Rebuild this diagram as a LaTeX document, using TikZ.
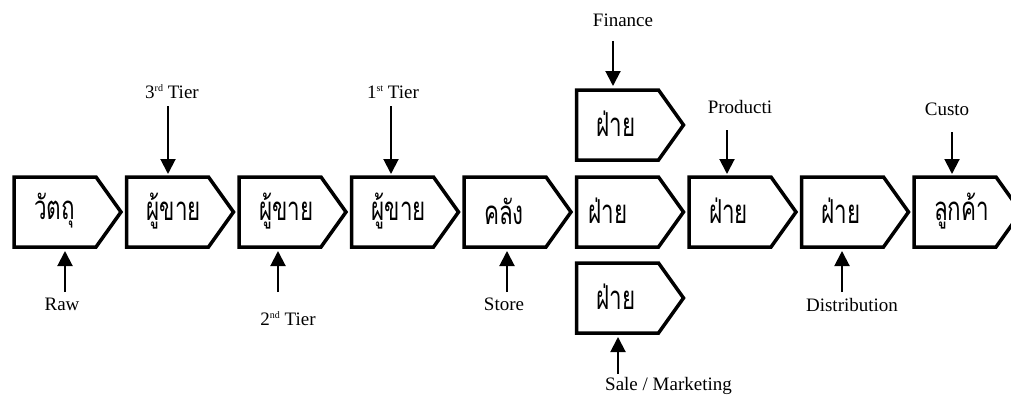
\documentclass[tikz,border=0pt]{standalone}
\usepackage{fontspec}
\setmainfont{Liberation Serif}
\newfontfamily\thaifont[Script=Thai,FakeStretch=0.68]{Loma}
\usetikzlibrary{arrows.meta}

\tikzset{
  core/.style={minimum width=82pt, minimum height=70pt, inner sep=0pt, outer sep=0pt},
  outline/.style={line width=3.5pt, line join=miter},
  thai/.style={font=\thaifont\fontsize{33}{36}\selectfont, anchor=west, inner sep=0pt},
  lab/.style={font=\fontsize{19}{22}\selectfont, inner sep=0pt, anchor=base},
  feed/.style={line width=2pt, -{Triangle[width=15pt,length=15pt]}},
}

% small raised ordinal suffix
\newcommand\ordsuf[1]{\raisebox{0.75ex}{\fontsize{10}{10}\selectfont #1}}

% chevron box: name, x, y, Thai text, text indent
\newcommand\chev[5]{%
  \node[core] (#1) at (#2,#3) {};
  \draw[outline] (#1.north west) -- (#1.north east) -- ([xshift=25pt]#1.east)
    -- (#1.south east) -- (#1.south west) -- cycle;
  \node[thai] (#1t) at ([xshift=#5,yshift=1pt]#1.west) {#4};
}

\begin{document}
\begin{tikzpicture}[x=1pt,y=-1pt]
\useasboundingbox (0,0) rectangle (1011,396);
\clip (0,0) rectangle (1011,396);

% main chain
\chev{raw}{55}{212}{วัตถุ}{20pt}
\chev{tthree}{167.5}{212}{ผู้ขาย}{20pt}
\chev{ttwo}{280}{212}{ผู้ขาย}{20pt}
\chev{tone}{392.5}{212}{ผู้ขาย}{20pt}
\chev{store}{505}{212}{คลัง}{20pt}
\chev{mid}{617.5}{212}{ฝ่าย}{12pt}
\chev{prod}{730}{212}{ฝ่าย}{20pt}
\chev{dist}{842.5}{212}{ฝ่าย}{20pt}
\chev{cust}{955}{212}{ลูกค้า}{20pt}
% parallel departments
\chev{fin}{617.5}{125}{ฝ่าย}{20pt}
\chev{sale}{617.5}{298}{ฝ่าย}{20pt}

% labels above
\node[lab] (lfin) at (623,27) {Finance};
\node[lab] (lthree) at (172,98) {3\ordsuf{rd} Tier};
\node[lab] (lone) at (393,98) {1\ordsuf{st} Tier};
\node[lab] (lprod) at (740,113) {Producti};
\node[lab] (lcust) at (947,115) {Custo};
% labels below
\node[lab] (lraw) at (62,310) {Raw};
\node[lab] (ltwo) at (288,325) {2\ordsuf{nd} Tier};
\node[lab] (lstore) at (504,310) {Store};
\node[lab] (ldist) at (852,311) {Distribution};
\node[lab, anchor=base west] (lsale) at (605,390) {Sale / Marketing};

% arrow tails
\coordinate (afin) at (613,41);
\coordinate (athree) at (168,106);
\coordinate (aone) at (391,106);
\coordinate (aprod) at (727,130);
\coordinate (acust) at (952,132);
\coordinate (araw) at (65,292);
\coordinate (atwo) at (278,292);
\coordinate (astore) at (507,292);
\coordinate (adist) at (842,292);
\coordinate (asale) at (618,374);

% feeding arrows
\draw[feed, shorten >=4pt] (afin) -- (afin |- fin.north);
\draw[feed, shorten >=3pt] (athree) -- (athree |- tthree.north);
\draw[feed, shorten >=3pt] (aone) -- (aone |- tone.north);
\draw[feed, shorten >=3pt] (aprod) -- (aprod |- prod.north);
\draw[feed, shorten >=3pt] (acust) -- (acust |- cust.north);
\draw[feed, shorten >=4pt] (araw) -- (araw |- raw.south);
\draw[feed, shorten >=4pt] (atwo) -- (atwo |- ttwo.south);
\draw[feed, shorten >=4pt] (astore) -- (astore |- store.south);
\draw[feed, shorten >=4pt] (adist) -- (adist |- dist.south);
\draw[feed, shorten >=4pt] (asale) -- (asale |- sale.south);
\end{tikzpicture}
\end{document}
